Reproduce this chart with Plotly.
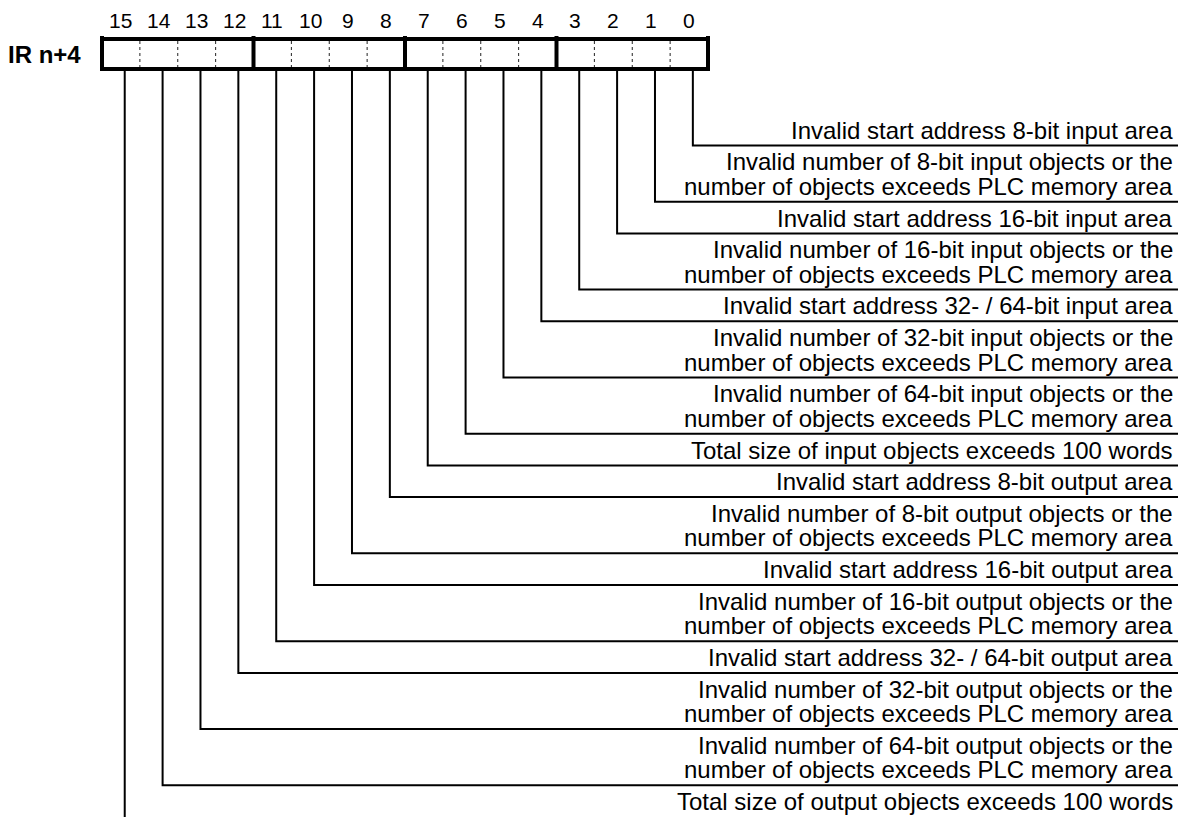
import plotly.graph_objects as go

# ---------------- data ----------------
REGISTER_LABEL = "IR n+4"
HEADER_BITS = [15, 14, 13, 12, 11, 10, 9, 8, 7, 6, 5, 4, 3, 2, 1, 0]
DESC_BITS = [0, 1, 2, 3, 4, 5, 6, 7, 8, 9, 10, 11, 12, 13, 14, 15]
DESC_TEXTS = [
    "Invalid start address 8-bit input area",
    "Invalid number of 8-bit input objects or the\nnumber of objects exceeds PLC memory area",
    "Invalid start address 16-bit input area",
    "Invalid number of 16-bit input objects or the\nnumber of objects exceeds PLC memory area",
    "Invalid start address 32- / 64-bit input area",
    "Invalid number of 32-bit input objects or the\nnumber of objects exceeds PLC memory area",
    "Invalid number of 64-bit input objects or the\nnumber of objects exceeds PLC memory area",
    "Total size of input objects exceeds 100 words",
    "Invalid start address 8-bit output area",
    "Invalid number of 8-bit output objects or the\nnumber of objects exceeds PLC memory area",
    "Invalid start address 16-bit output area",
    "Invalid number of 16-bit output objects or the\nnumber of objects exceeds PLC memory area",
    "Invalid start address 32- / 64-bit output area",
    "Invalid number of 32-bit output objects or the\nnumber of objects exceeds PLC memory area",
    "Invalid number of 64-bit output objects or the\nnumber of objects exceeds PLC memory area",
    "Total size of output objects exceeds 100 words",
]

# ---------------- layout constants ----------------
W, H = 1191, 817
FONT = "Liberation Sans, Arial, Helvetica, sans-serif"
BOX_L, BOX_R = 102.0, 708.0
BOX_T, BOX_B = 39.0, 69.0
NBITS = len(HEADER_BITS)
CELL = (BOX_R - BOX_L) / NBITS
LEAD_FRAC = 0.6          # x position of leader line inside its cell
ROWS_TOP = 113.8
ROW_PAD = 7.2
LINE_H = 24.5
BASE_OFF = 7.0
TEXT_R = 1173.0
HLINE_R = 1178.0
DESC_SIZE = 24
HEAD_SIZE = 21


def col_of(bit):
    return HEADER_BITS.index(bit)


def lead_x(bit):
    return BOX_L + CELL * (col_of(bit) + LEAD_FRAC)


# row line positions derived from the number of text lines per row
row_y = {}
y = ROWS_TOP
for b, t in zip(DESC_BITS, DESC_TEXTS):
    y += ROW_PAD + LINE_H * len(t.split("\n"))
    row_y[b] = y

fig = go.Figure()

# leader lines
lx, ly = [], []
for b in DESC_BITS:
    x0 = lead_x(b)
    lx += [x0, x0]
    ly += [BOX_B, row_y[b] + 3 if b == DESC_BITS[-1] else row_y[b]]
    if b != DESC_BITS[-1]:
        lx += [HLINE_R]
        ly += [row_y[b]]
    lx.append(None)
    ly.append(None)
fig.add_trace(go.Scatter(x=lx, y=ly, mode="lines",
                         line=dict(color="black", width=2), hoverinfo="skip"))

# dotted cell dividers
dx, dy = [], []
for k in range(1, NBITS):
    if k % 4 != 0:
        xx = BOX_L + CELL * k
        dx += [xx, xx, None]
        dy += [BOX_T + 2, BOX_B - 2, None]
fig.add_trace(go.Scatter(x=dx, y=dy, mode="lines",
                         line=dict(color="#222", width=1, dash="dot"), hoverinfo="skip"))

# thick group dividers and box
tx, ty = [], []
for k in range(0, NBITS + 1, 4):
    xx = BOX_L + CELL * k
    tx += [xx, xx, None]
    ty += [BOX_T - 3, BOX_B + 2, None]
tx += [BOX_L, BOX_R, None, BOX_L, BOX_R, None]
ty += [BOX_T, BOX_T, None, BOX_B, BOX_B, None]
fig.add_trace(go.Scatter(x=tx, y=ty, mode="lines",
                         line=dict(color="black", width=4), hoverinfo="skip"))

annotations = []
# header bit numbers
for i, b in enumerate(HEADER_BITS):
    annotations.append(dict(x=BOX_L + CELL * (i + 0.5), y=20.5, text=str(b),
                            showarrow=False, xanchor="center", yanchor="middle",
                            font=dict(family=FONT, size=HEAD_SIZE, color="black"),
                            borderpad=0, borderwidth=0))
# register label
annotations.append(dict(x=81, y=54, text="<b>" + REGISTER_LABEL + "</b>",
                        showarrow=False, xanchor="right", yanchor="middle",
                        font=dict(family=FONT, size=24, color="black"),
                        borderpad=0, borderwidth=0))
# descriptions
for b, t in zip(DESC_BITS, DESC_TEXTS):
    lines = t.split("\n")
    n = len(lines)
    for j, s in enumerate(lines):
        base = row_y[b] - BASE_OFF - LINE_H * (n - 1 - j)
        annotations.append(dict(x=TEXT_R, y=base - 0.3465 * DESC_SIZE, text=s,
                                showarrow=False, xanchor="right", yanchor="middle",
                                font=dict(family=FONT, size=DESC_SIZE, color="black"),
                                borderpad=0, borderwidth=0))

fig.update_layout(
    width=W, height=H,
    margin=dict(l=0, r=0, t=0, b=0),
    paper_bgcolor="white", plot_bgcolor="white",
    showlegend=False,
    xaxis=dict(range=[0, W], visible=False, fixedrange=True),
    yaxis=dict(range=[H, 0], visible=False, fixedrange=True),
    annotations=annotations,
)

fig.write_html("out.html", config=dict(displayModeBar=False),
               post_script="document.body.style.margin='0';document.body.style.overflow='hidden';")
